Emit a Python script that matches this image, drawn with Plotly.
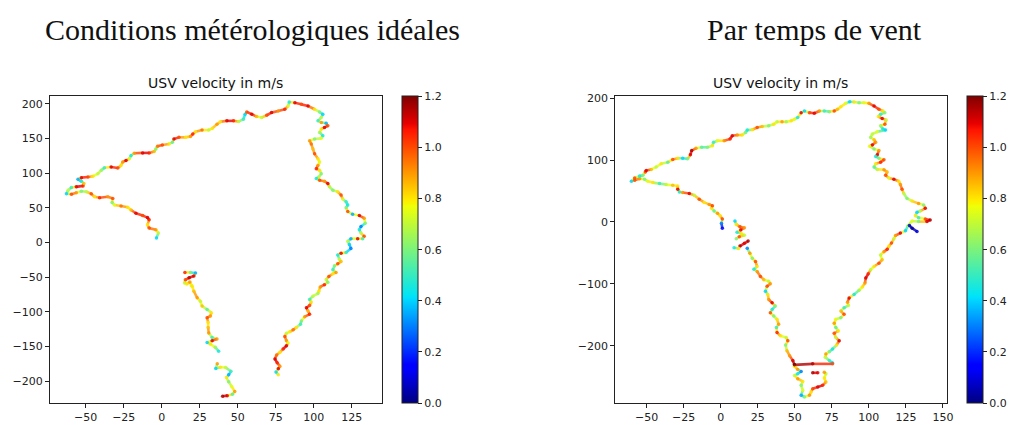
import plotly.graph_objects as go
from plotly.colors import sample_colorscale

# matplotlib "jet"
JET = [[0.0, 'rgb(0,0,128)'], [0.11, 'rgb(0,0,255)'], [0.125, 'rgb(0,0,255)'],
       [0.34, 'rgb(0,219,255)'], [0.35, 'rgb(0,229,246)'], [0.64, 'rgb(239,255,8)'],
       [0.65, 'rgb(247,246,0)'], [0.66, 'rgb(255,236,0)'], [0.89, 'rgb(255,19,0)'],
       [0.91, 'rgb(232,0,0)'], [1.0, 'rgb(128,0,0)']]
VMAX = 1.2

# --- conditions idéales : (x, y, vitesse m/s) ---
ideal_main = [
    (-3.5, 6.3, .4), (-2.2, 13.5, .7), (-3.9, 18.2, .9), (-8.3, 20.6, 1.0), (-9.4, 25.4, .8),
    (-8.3, 32.5, 1.05), (-9.4, 35.8, 1.1), (-12.6, 38.7, 1.0), (-17.0, 42.0, 1.1), (-20.2, 46.8, .85),
    (-22.4, 50.6, .8), (-26.8, 52.5, .95), (-31.1, 53.9, .75), (-32.7, 57.7, .6), (-32.2, 63.4, 1.0),
    (-35.5, 65.8, .9), (-40.9, 64.4, 1.05), (-44.2, 65.8, .8), (-46.4, 70.1, 1.0), (-49.6, 73.0, .7),
    (-52.9, 73.9, .6), (-56.2, 71.5, .9), (-59.4, 69.6, 1.0), (-62.7, 70.1, .4), (-61.6, 75.3, .7),
    (-59.4, 79.1, .5), (-56.2, 80.1, 1.1), (-51.8, 81.5, 1.05), (-51.2, 84.9, .85), (-52.9, 88.2, .45),
    (-55.1, 91.0, .35), (-52.9, 93.4, 1.1), (-48.5, 94.4, 1.0), (-45.3, 95.3, .8), (-42.0, 99.1, .7),
    (-39.8, 103.9, .65), (-37.7, 107.7, .5), (-33.3, 108.7, 1.1), (-28.9, 107.2, 1.0), (-26.8, 111.0, .8),
    (-25.7, 115.8, .9), (-23.5, 118.2, 1.1), (-21.3, 120.6, .75), (-20.2, 125.3, .45), (-18.1, 128.6, .9),
    (-12.6, 129.1, 1.1), (-8.3, 129.1, 1.05), (-5.0, 131.0, .85), (-3.9, 134.8, .6), (-2.8, 138.6, .95),
    (0.4, 140.6, 1.0), (4.8, 142.0, .8), (7.0, 144.4, .55), (8.0, 149.1, 1.1), (11.3, 151.5, 1.0),
    (15.7, 151.5, .8), (18.9, 152.9, .9), (20.4, 156.3, 1.05), (22.2, 159.6, .8), (26.5, 162.0, .95),
    (30.9, 162.0, .7), (33.1, 164.4, .8), (36.3, 170.5, .9), (38.5, 173.9, .8), (42.8, 175.3, 1.1),
    (47.2, 175.3, 1.05), (50.5, 174.3, .7), (53.7, 177.7, .5), (54.8, 184.8, .4), (55.9, 188.2, 1.0),
    (59.2, 184.8, 1.1), (62.4, 181.5, .85), (65.7, 180.1, .7), (69.0, 183.4, 1.0), (72.2, 187.2, 1.1),
    (76.6, 189.6, .9), (80.9, 192.0, 1.05), (83.1, 196.7, .75), (83.8, 202.4, .45), (87.5, 201.5, 1.1),
    (91.8, 199.1, 1.0), (96.2, 196.7, 1.1), (100.5, 192.0, .8), (103.8, 188.2, .6), (105.9, 184.8, .4),
    (104.9, 180.1, .7), (102.7, 175.3, .5), (104.9, 172.9, .9), (108.1, 172.0, .35), (109.2, 168.2, 1.0),
    (107.0, 165.8, 1.1), (104.9, 163.4, .8), (103.8, 158.6, .65), (105.9, 153.9, .45), (104.9, 150.1, .75),
    (100.5, 149.1, .6), (97.2, 146.7, .9), (98.3, 142.0, .95), (99.4, 134.8, .85), (100.5, 127.7, 1.0),
    (102.7, 120.6, .8), (103.8, 115.8, .75), (102.7, 111.0, .9), (101.6, 106.3, 1.05), (103.8, 103.9, .8),
    (104.9, 99.1, .6), (103.3, 94.4, .7), (101.6, 92.0, .45), (103.8, 89.6, 1.0), (107.0, 88.2, .9),
    (109.2, 84.9, 1.1), (110.3, 80.1, .7), (112.5, 75.3, .6), (115.7, 73.0, .8), (117.9, 68.2, 1.0),
    (119.0, 62.5, .75), (121.2, 58.7, .5), (122.3, 53.9, .45), (121.2, 50.1, .6), (122.3, 44.4, 1.0),
    (125.5, 40.6, .35), (129.9, 38.7, 1.1), (133.1, 34.9, .9), (133.8, 27.7, .6), (131.0, 23.0, .3),
    (129.9, 18.2, .45), (131.0, 13.5, .7), (133.1, 8.7, 1.0), (132.1, 5.4, .5), (128.8, 5.4, 1.1),
    (124.4, 5.4, .35), (122.3, 1.6, .7), (123.4, -3.2, .4), (124.4, -8.9, .3), (121.2, -14.7, .5),
    (117.9, -15.5, 1.1), (115.7, -18.0, .45), (116.8, -24.2, .7), (117.9, -27.6, .85), (115.7, -30.9, 1.0),
    (113.6, -33.7, .6), (112.5, -39.5, .5), (114.6, -43.3, .9), (112.5, -45.2, .8), (109.9, -49.0, 1.0),
    (108.1, -53.7, .7), (109.2, -57.5, .6), (107.0, -60.9, 1.05), (104.2, -64.2, .9), (103.3, -70.4, .8),
    (102.7, -73.7, .65), (99.4, -77.5, .7), (97.2, -82.3, .5), (98.3, -86.1, .8), (97.2, -90.9, 1.0),
    (95.1, -94.2, 1.1), (96.2, -99.0, .85), (97.2, -103.7, 1.05), (94.0, -107.1, .9), (91.8, -113.2, .6),
    (91.2, -118.0, .5), (88.5, -122.8, .8), (86.4, -126.1, .95), (84.2, -128.9, .8), (82.0, -130.9, .7),
    (80.9, -135.6, 1.0), (82.0, -141.8, .9), (83.1, -145.1, .75), (82.0, -149.0, 1.1), (79.8, -153.7, 1.05),
    (77.7, -158.5, .8), (75.5, -162.3, .95), (74.4, -168.0, 1.1), (75.9, -173.7, 1.05), (77.7, -178.5, .9),
    (76.6, -182.3, 1.1), (75.1, -187.0, .4), (76.6, -190.8, .8),
]
ideal_south_a = [
    (15.2, -43.3, 1.05), (18.9, -43.3, .6), (22.2, -44.2, .35), (21.1, -48.5, 1.1), (18.0, -51.0, 1.15),
    (15.5, -54.0, 1.0), (15.0, -58.5, .7), (16.5, -60.0, .8), (18.5, -57.0, .9), (19.5, -62.0, .75),
    (20.0, -63.3, .8), (21.1, -70.4, .85), (23.3, -79.9, .9), (25.4, -84.7, .7), (26.5, -91.8, .85),
    (29.8, -96.6, .55), (32.6, -101.3, .8), (32.0, -106.1, .9), (29.8, -108.5, 1.0), (30.5, -115.6, .8),
    (30.5, -122.8, .85), (30.9, -130.8, .9), (33.1, -137.0, .5), (36.3, -139.4, .9), (33.1, -141.8, 1.1),
    (29.8, -144.2, .4), (32.0, -146.6, .8), (35.2, -151.3, .65), (37.4, -157.0, .45),
]
ideal_south_b = [
    (36.5, -175.0, .9), (35.5, -182.0, .4), (38.5, -180.0, .8), (42.0, -180.5, .7), (45.5, -186.0, .5),
    (44.0, -191.0, .35), (42.5, -195.0, .8), (44.0, -201.0, .6), (46.0, -208.0, .75), (48.0, -215.0, .9),
    (46.5, -219.0, .55), (43.0, -221.0, 1.1), (40.0, -222.0, 1.15),
]

# --- par temps de vent ---
wind_main = [
    (1.1, -10.1, .15), (0.5, -2.1, .3), (1.1, 4.8, 1.0), (-0.4, 10.1, .8), (-2.2, 13.9, .9),
    (-4.45, 17.6, .55), (-6.2, 21.9, .8), (-5.6, 26.1, 1.0), (-7.8, 28.3, .9), (-11.2, 31.5, .8),
    (-14.5, 36.8, 1.0), (-17.9, 43.2, .7), (-21.2, 45.9, 1.1), (-25.7, 47.5, .9), (-27.9, 48.5, .45),
    (-29.0, 52.8, 1.1), (-29.0, 58.1, .8), (-32.4, 59.2, .85), (-36.9, 60.3, .7), (-41.3, 61.9, .5),
    (-45.8, 63.5, .8), (-49.2, 65.6, .75), (-51.4, 68.8, .6), (-54.7, 69.9, .9), (-58.1, 67.2, 1.0),
    (-60.3, 65.6, .4), (-58.1, 70.9, 1.0), (-54.7, 74.1, .45), (-52.5, 75.2, .6), (-50.9, 80.5, 1.0),
    (-50.3, 83.2, 1.1), (-46.9, 84.8, .85), (-43.6, 88.5, .7), (-40.2, 93.9, .8), (-35.7, 96.5, .55),
    (-32.4, 100.8, 1.0), (-29.0, 102.9, .8), (-25.7, 102.9, .4), (-22.3, 101.9, .6), (-20.5, 108.3, 1.1),
    (-19.6, 115.2, 1.15), (-16.7, 118.9, .9), (-12.9, 120.5, .55), (-8.9, 120.5, .6), (-5.6, 123.2, .8),
    (-4.9, 128.5, .5), (-2.2, 131.2, .75), (2.3, 131.2, .9), (6.3, 133.9, 1.05), (7.8, 139.2, 1.1),
    (11.2, 140.3, .9), (14.5, 140.3, .8), (16.8, 144.5, .6), (17.9, 148.3, .45), (21.3, 148.8, .8),
    (24.6, 152.5, 1.0), (28.0, 154.1, .85), (32.4, 155.2, .6), (35.8, 157.9, .8), (38.0, 161.6, .7),
    (41.4, 161.6, .9), (44.2, 161.6, .65), (47.6, 163.2, .8), (49.8, 165.9, .75), (52.0, 168.5, .45),
    (54.3, 176.5, 1.1), (56.5, 179.2, .4), (59.9, 176.5, 1.0), (63.2, 175.5, 1.1), (66.6, 179.2, .9),
    (69.9, 179.2, .5), (73.3, 178.1, .6), (76.6, 179.2, 1.0), (78.9, 181.9, .85), (81.1, 186.1, .8),
    (84.4, 191.5, .75), (87.1, 194.1, .4), (90.0, 193.6, .8), (93.4, 192.5, .6), (96.7, 192.5, .75),
    (100.1, 191.5, .9), (103.5, 187.2, 1.1), (106.8, 181.9, 1.0), (109.5, 179.2, .8), (110.8, 176.5, .6),
    (107.9, 173.9, .5), (106.4, 170.1, .8), (109.0, 166.9, 1.1), (111.7, 164.8, .7), (110.8, 157.9, 1.0),
    (107.9, 155.2, .65), (109.5, 149.9, .45), (111.3, 148.3, .4), (105.7, 145.6, .75), (102.3, 141.9, .7),
    (101.2, 136.5, .65), (103.5, 132.8, .85), (104.6, 128.5, .9), (102.3, 124.3, 1.1), (100.5, 122.1, .75),
    (103.5, 117.9, .6), (106.8, 115.2, .9), (105.7, 108.3, 1.1), (104.6, 105.6, .45), (106.8, 102.9, .6),
    (110.2, 100.3, 1.0), (107.9, 96.5, 1.05), (104.6, 93.9, .8), (103.5, 88.5, .55), (105.7, 84.8, .7),
    (110.2, 84.3, .9), (112.4, 80.5, .85), (111.3, 75.2, 1.0), (113.5, 70.9, .75), (116.9, 68.8, 1.1),
    (120.2, 65.6, .8), (121.3, 60.3, .9), (122.4, 52.8, 1.0), (123.6, 45.9, .7), (125.8, 37.9, .6),
    (129.2, 33.6, .8), (133.6, 29.9, .9), (137.0, 27.2, .6), (138.1, 21.9, 1.1), (134.7, 17.6, .7),
    (132.5, 15.5, .4), (131.4, 10.1, .8), (133.6, 6.9, .5), (138.1, 4.8, 1.0), (141.4, 3.2, 1.15),
    (139.2, 0.5, 1.1), (133.6, 0.5, .6), (129.2, 1.6, .75), (126.5, -6.0, .65), (124.7, -14.4, .4),
    (121.3, -18.1, 1.1), (118.0, -21.9, .9), (116.9, -27.2, .7), (115.3, -34.1, 1.0), (113.5, -39.5, .8),
    (112.4, -44.3, 1.05), (110.2, -48.0, .9), (107.9, -53.3, .7), (109.0, -61.3, .85), (106.8, -66.7, 1.0),
    (103.5, -72.0, .8), (101.2, -77.3, .7), (99.6, -83.7, 1.05), (97.9, -90.7, 1.1), (97.4, -98.7, .9),
    (95.6, -105.1, .8), (93.4, -110.4, .65), (90.0, -117.3, .45), (86.7, -122.7, 1.1), (85.6, -129.6, .9),
    (86.2, -134.9, .7), (83.3, -138.7, .5), (81.1, -144.0, .85), (83.3, -149.3, 1.0), (81.1, -154.7, .6),
    (77.7, -157.3, .75), (76.6, -163.7, .9), (77.7, -170.7, .55), (79.5, -176.0, .8), (76.6, -179.7, 1.0),
    (77.7, -186.7, .7), (80.0, -192.0, 1.1), (78.2, -198.9, .8), (75.5, -205.3, .45), (73.3, -209.6, .6),
    (71.0, -213.3, .9), (70.6, -218.7, .7), (73.3, -224.0, .5), (75.5, -227.7, .4), (75.5, -229.3, 1.0),
    (62.1, -229.3, 1.15), (49.8, -230.9, 1.2), (49.8, -233.1, .8), (52.0, -238.4, .9), (54.3, -241.6, .3),
    (52.0, -245.3, .45), (49.8, -248.0, .7), (52.0, -253.3, .9), (55.4, -257.6, .8), (54.3, -264.0, .6),
    (55.4, -272.0, .75), (54.3, -280.0, .35), (56.5, -282.7, .6), (59.9, -280.0, .9), (61.0, -274.7, .8),
    (62.1, -269.3, 1.0), (65.5, -266.7, 1.1), (68.8, -264.0, 1.05), (71.0, -258.7, .85), (69.9, -252.3, .8),
    (71.0, -245.3, .7), (69.9, -242.7, .9),
]
wind_west = [
    (17.9, -42.7, .3), (19.7, -50.7, .9), (21.3, -58.7, .6), (23.5, -64.0, 1.0), (24.6, -72.0, .8),
    (22.4, -76.3, .45), (24.6, -80.0, .9), (26.8, -88.0, 1.0), (29.1, -93.3, .85), (32.4, -96.0, .7),
    (33.5, -99.7, .9), (31.3, -104.0, 1.0), (30.2, -112.0, .4), (31.8, -117.3, .8), (32.4, -125.3, .9),
    (34.7, -130.7, 1.1), (36.9, -136.0, .6), (34.7, -141.3, .45), (33.5, -146.7, 1.0), (35.8, -152.0, .6),
    (38.0, -157.3, .8), (39.1, -165.3, .9), (37.6, -170.7, .5), (38.0, -178.7, 1.05), (40.3, -184.0, .8),
    (44.2, -186.7, .7), (45.3, -192.0, 1.0), (43.8, -198.9, .6), (44.7, -208.0, .85), (46.5, -216.0, .9),
    (48.7, -224.0, 1.1), (49.8, -230.9, 1.2),
]
wind_zig = [
    (9.6, 1.5, .4), (10.5, -4.0, .8), (13.0, -8.0, 1.0), (16.0, -9.5, .9), (13.5, -13.0, 1.1),
    (11.0, -16.5, .45), (14.0, -19.0, .8), (16.0, -21.5, .7), (12.5, -24.0, 1.0), (10.5, -27.0, .6),
]
wind_dash = [(18.5, -31.0, 1.15), (16.0, -34.5, 1.1), (13.0, -39.0, 1.15)]
wind_stub = [(9.0, -41.6, .45), (12.0, -43.0, .8)]
wind_tail = [(127.4, -5.9, .06), (129.2, -10.1, .02), (132.5, -15.5, .1)]
wind_bit = [(62.1, -243.7, 1.15), (65.5, -243.7, 1.1)]

TICKS = [0, 0.2, 0.4, 0.6, 0.8, 1.0, 1.2]
font = dict(family='DejaVu Sans', size=11, color='#222')

fig = go.Figure()


def add_tracks(tracks, xa, ya, cbar_x):
    groups = {}
    for pts in tracks:
        for a, b in zip(pts[:-1], pts[1:]):
            key = round((a[2] + b[2]) / 2 / 0.05) * 0.05
            gx, gy = groups.setdefault(key, ([], []))
            gx += [a[0], b[0], None]
            gy += [a[1], b[1], None]
    for key, (gx, gy) in sorted(groups.items()):
        c = sample_colorscale(JET, [min(key / VMAX, 1.0)])[0]
        fig.add_trace(go.Scatter(x=gx, y=gy, mode='lines', xaxis=xa, yaxis=ya,
                                 line=dict(color=c, width=2.6), opacity=0.8,
                                 hoverinfo='skip', showlegend=False))
    xs = [p[0] for pts in tracks for p in pts]
    ys = [p[1] for pts in tracks for p in pts]
    vs = [p[2] for pts in tracks for p in pts]
    fig.add_trace(go.Scatter(
        x=xs, y=ys, mode='markers', xaxis=xa, yaxis=ya, showlegend=False,
        marker=dict(size=3.5, color=vs, colorscale=JET, cmin=0, cmax=VMAX, opacity=0.85,
                    colorbar=dict(x=cbar_x, xanchor='left', y=0.4165, yanchor='middle',
                                  len=0.7294, lenmode='fraction', thickness=16,
                                  xpad=0, ypad=0, outlinewidth=1, outlinecolor='#222',
                                  tickvals=TICKS, ticktext=['%.1f' % t for t in TICKS],
                                  ticks='outside', ticklen=4, tickcolor='#222',
                                  tickfont=font))))


add_tracks([ideal_main, ideal_south_a, ideal_south_b], 'x', 'y', 405 / 1021)
add_tracks([wind_main, wind_west, wind_zig, wind_dash, wind_stub, wind_tail, wind_bit],
           'x2', 'y2', 974 / 1021)

axis = dict(showgrid=False, zeroline=False, showline=True, mirror=True, linecolor='#222',
            linewidth=1, ticks='outside', ticklen=4, tickcolor='#222', tickfont=font)
ydom = [0.0518, 0.7812]
fig.update_layout(
    width=1021, height=425, margin=dict(l=0, r=0, t=0, b=0),
    paper_bgcolor='white', plot_bgcolor='white',
    xaxis=dict(axis, domain=[0.0493, 0.3764], range=[-73.5, 144.6],
               tickvals=[-50, -25, 0, 25, 50, 75, 100, 125]),
    yaxis=dict(axis, domain=ydom, range=[-231.9, 211.0],
               tickvals=[-200, -150, -100, -50, 0, 50, 100, 150, 200]),
    xaxis2=dict(axis, domain=[0.6066, 0.9337], range=[-71.3, 152.6], anchor='y2',
                tickvals=[-50, -25, 0, 25, 50, 75, 100, 125, 150]),
    yaxis2=dict(axis, domain=ydom, range=[-292.8, 203.2], anchor='x2',
                tickvals=[-200, -100, 0, 100, 200]),
)

for cx in (217 / 1021, 786 / 1021):
    fig.add_annotation(text='USV velocity in m/s', x=cx, y=1 - 80 / 425, xref='paper', yref='paper',
                       showarrow=False, xanchor='center', yanchor='middle',
                       font=dict(family='DejaVu Sans', size=14, color='#111'))

for txt, cx in (('Conditions métérologiques idéales', 254 / 1021), ('Par temps de vent', 820 / 1021)):
    fig.add_annotation(text=txt, x=cx, y=1 - 26 / 425, xref='paper', yref='paper',
                       showarrow=False, xanchor='center', yanchor='middle',
                       font=dict(family='Liberation Serif', size=30, color='#111'))

fig.write_html('out.html', config={'displayModeBar': False},
               post_script="document.body.style.margin='0px';")
